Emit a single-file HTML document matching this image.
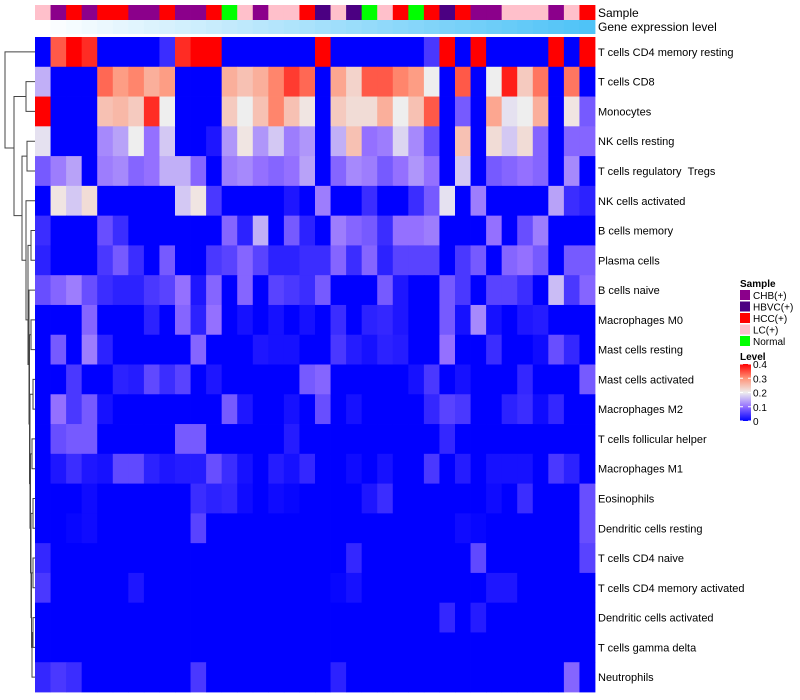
<!DOCTYPE html>
<html><head><meta charset="utf-8"><style>
html,body{margin:0;padding:0;background:#fff;}
svg{display:block;font-family:"Liberation Sans",sans-serif;}
</style></head><body>
<svg id="chart" width="800" height="700" viewBox="0 0 800 700" xmlns="http://www.w3.org/2000/svg">
<g id="dendro" fill="none" stroke="#444" stroke-width="1"></g>
<g id="ann"></g>
<g id="cells"></g>
<g id="rowlabels" font-size="11" fill="#000"></g>
<text x="598" y="17" font-size="12">Sample</text>
<text x="598" y="31" font-size="12">Gene expression level</text>
<g id="legend" font-size="10"></g>
<defs><linearGradient id="lvl" x1="0" y1="1" x2="0" y2="0">
<stop offset="0" stop-color="#0000ff"/><stop offset="0.25" stop-color="#9470ff"/><stop offset="0.5" stop-color="#eeeeee"/><stop offset="0.75" stop-color="#ff9478"/><stop offset="1" stop-color="#ff0000"/></linearGradient></defs>
</svg>
<script>
const rowNames=["T cells CD4 memory resting","T cells CD8","Monocytes","NK cells resting","T cells regulatory \u00a0Tregs","NK cells activated","B cells memory","Plasma cells","B cells naive","Macrophages M0","Mast cells resting","Mast cells activated","Macrophages M2","T cells follicular helper","Macrophages M1","Eosinophils","Dendritic cells resting","T cells CD4 naive","T cells CD4 memory activated","Dendritic cells activated","T cells gamma delta","Neutrophils"];
const samples=["LC","CHB","HCC","CHB","HCC","HCC","CHB","CHB","HCC","CHB","CHB","HCC","Normal","LC","CHB","LC","LC","HCC","HBVC","LC","HBVC","Normal","LC","HCC","Normal","HCC","HBVC","HCC","CHB","CHB","LC","LC","LC","CHB","LC","HCC"];
const sampleTypes=["CHB(+)","HBVC(+)","HCC(+)","LC(+)","Normal"];
const levelTicks=[0,0.1,0.2,0.3,0.4];
const m0=[0,.34,.4,.37,0,0,0,0,.04,.37,.4,.4,0,0,0,0,0,0,.4,0,0,0,0,0,0,.05,.4,0,.4,0,0,0,0,.4,0,.4];
const m1=[.15,0,0,0,.33,.29,.31,.27,.29,0,0,0,.27,.25,.27,.31,.36,.33,0,.28,.23,.34,.34,.31,.29,.2,0,.34,0,.2,.38,.24,.32,0,.32,0];
const m2=[.4,0,0,0,.25,.26,.24,.37,.2,0,0,0,.24,.2,.25,.31,.25,.21,0,.24,.22,.22,.27,.2,.25,.34,0,.08,0,.28,.19,.2,.27,0,.21,.08];
const m3=[.19,0,0,0,.12,.14,.2,.1,.17,0,0,.02,.13,.21,.13,.17,.11,.13,0,.15,.25,.1,.11,.18,.12,.07,0,.25,0,.22,.17,.22,.09,0,.09,.09];
const m4=[.08,.11,.14,0,.11,.12,.09,.1,.15,.15,.09,0,.11,.12,.1,.09,.1,.14,0,.09,.12,.11,.08,.1,.13,.1,0,.17,0,.08,.09,.1,.09,0,.12,0];
const m5=[0,.21,.17,.22,0,0,0,0,0,.17,.21,.05,0,0,0,0,.02,0,.11,0,0,.04,0,0,.04,.08,.19,0,.11,0,0,0,0,.14,.04,.03];
const m6=[.04,0,0,0,.07,.04,0,0,0,0,0,0,.09,.03,.15,0,.08,.03,0,.11,.09,.08,.04,.1,.1,.11,0,0,0,.1,0,.07,.11,0,0,0];
const m7=[.03,0,0,0,.05,.08,.04,0,.08,0,0,.05,.06,.09,.06,.03,.03,.04,.04,.09,.04,.09,.03,.06,.06,.06,0,.05,.08,0,.09,.1,.08,0,.08,.08];
const m8=[.07,.09,.11,.07,.04,.03,.03,.05,.06,.1,.02,.09,0,.09,0,.06,.05,.04,.08,0,0,0,.08,.02,0,0,.08,.05,0,.06,.06,.04,0,.16,.05,.09];
const m9=[0,0,0,.09,0,0,0,.03,0,.09,.03,.1,0,.015,0,.015,0,.015,0,.04,0,.03,.035,.02,0,0,.08,.015,.12,.015,0,.02,.025,0,0,0];
const m10=[0,.08,0,.11,.03,0,0,0,0,0,.09,0,0,0,.02,.015,.015,0,0,.05,.025,.015,.03,.025,0,0,.1,0,0,.04,0,0,.01,.07,.035,0];
const m11=[0,0,.05,0,0,.03,.025,.065,.04,.06,0,.02,0,0,0,0,0,.08,.09,0,0,0,0,0,.015,.05,0,.015,0,0,0,.035,0,0,0,.08];
const m12=[0,.1,.05,.08,.015,0,0,0,0,0,0,0,.08,.02,0,0,.015,0,.07,0,.015,0,0,0,0,.035,.06,.05,0,0,.03,.04,.01,.035,0,0];
const m13=[0,.07,.08,.08,0,0,0,0,0,.08,.08,0,0,0,0,0,.025,0,0,0,0,0,0,0,0,0,.035,0,0,0,0,0,0,0,0,0];
const m14=[0,.02,.04,.02,.015,.065,.065,.03,.02,.025,.025,.07,.04,.015,0,.025,.015,.035,0,0,.01,0,.015,0,0,.05,0,.025,0,.015,.015,.015,0,.05,.03,0];
const m15=[0,0,0,.01,0,0,0,0,0,0,.04,.03,.035,.01,0,.01,.005,0,0,0,0,.02,.04,0,0,0,0,0,0,.01,0,.04,0,0,0,.07];
const m16=[0,0,.005,.01,0,0,0,0,0,0,.06,0,0,0,0,0,0,0,0,0,0,0,0,0,0,0,0,.01,.005,0,0,0,0,0,0,.07];
const m17=[.035,0,0,0,0,0,0,0,0,0,0,0,0,0,0,0,0,0,0,0,.035,0,0,0,0,0,0,0,.065,0,0,0,0,0,0,.06];
const m18=[.05,0,0,0,0,0,.02,0,0,0,0,0,0,0,0,0,0,0,0,.005,.015,0,0,0,0,0,0,0,0,.02,.02,0,0,0,0,0];
const m19=[0,0,0,0,0,0,0,0,0,0,0,0,0,0,0,0,0,0,0,0,0,0,0,0,0,0,.035,0,.025,0,0,0,0,0,0,0];
const m20=[0,0,0,0,0,0,0,0,0,0,0,0,0,0,0,0,0,0,0,0,0,0,0,0,0,0,0,0,0,0,0,0,0,0,0,0];
const m21=[.035,.05,.04,0,0,0,0,0,0,0,.05,0,0,0,0,0,0,0,0,.03,0,0,0,0,0,0,0,0,0,0,0,0,0,0,.09,0];
const matrix=[m0,m1,m2,m3,m4,m5,m6,m7,m8,m9,m10,m11,m12,m13,m14,m15,m16,m17,m18,m19,m20,m21];

const NS="http://www.w3.org/2000/svg";
const X0=35,X1=595,Y0=37,Y1=692;
const nC=samples.length,nR=rowNames.length;
const cw=(X1-X0)/nC,rh=(Y1-Y0)/nR;
const xPos=i=>X0+i*cw, yPos=r=>Y0+r*rh;
const sampleColor={"CHB":"#8b008b","HBVC":"#4b0082","HCC":"#ff0000","LC":"#ffc0cb","Normal":"#00ff00"};
const stops=[[0,[0,0,255]],[0.1,[148,112,255]],[0.2,[238,238,238]],[0.3,[255,148,120]],[0.4,[255,0,0]]];
function col(v){v=Math.max(0,Math.min(0.4,v));for(let i=0;i<4;i++){const a=stops[i],b=stops[i+1];if(v<=b[0]){const t=(v-a[0])/(b[0]-a[0]);return "rgb("+a[1].map((c,k)=>Math.round(c+(b[1][k]-c)*t)).join(",")+")";}}return "red";}
function mk(tag,attrs,parent){const e=document.createElementNS(NS,tag);for(const k in attrs)e.setAttribute(k,attrs[k]);parent.appendChild(e);return e;}
const cells=document.getElementById('cells');
matrix.forEach((row,r)=>row.forEach((v,c)=>{
  const e=mk('rect',{x:xPos(c),y:yPos(r),width:cw+0.4,height:rh+0.4,fill:col(v)},cells);
  
  
}));
const rl=document.getElementById('rowlabels');
rowNames.forEach((n,r)=>{
  const t=mk('text',{x:598,y:yPos(r)+rh/2+4},rl);t.textContent=n;
  
  
});
const ann=document.getElementById('ann');
samples.forEach((s,c)=>{
  const e=mk('rect',{x:xPos(c),y:5,width:cw+0.4,height:15,fill:sampleColor[s]},ann);
  
  
  const t=c/(nC-1);
  const g=mk('rect',{x:xPos(c),y:20,width:cw+0.4,height:14,fill:"rgb("+Math.round(255-(255-79)*t)+","+Math.round(255-(255-195)*t)+","+Math.round(255-(255-247)*t)+")"},ann);
  
  
});
const lg=document.getElementById('legend');
let t=mk('text',{x:740,y:287,'font-weight':'bold'},lg);t.textContent="Sample";


const keys=["CHB","HBVC","HCC","LC","Normal"];
sampleTypes.forEach((s,i)=>{
  const y=290+i*11.5;
  const b=mk('rect',{x:740,y:y,width:10,height:10,fill:sampleColor[keys[i]]},lg);
  
  
  const tx=mk('text',{x:753,y:y+9},lg);tx.textContent=s;
  
  
});
t=mk('text',{x:740,y:360,'font-weight':'bold'},lg);t.textContent="Level";


const cb=mk('rect',{x:740,y:364,width:11,height:57,fill:'url(#lvl)'},lg);


levelTicks.forEach(v=>{
  const y=421-v/0.4*57;
  mk('line',{x1:740,x2:743,y1:y,y2:y,stroke:'#fff'},lg);
  mk('line',{x1:748,x2:751,y1:y,y2:y,stroke:'#fff'},lg);
  const tx=mk('text',{x:753,y:y+4},lg);tx.textContent=String(v);
  
  
});
const dg=document.getElementById('dendro');
const cy=r=>yPos(r)+rh/2;
function U(x,ya,yb,xa,xb){mk('path',{d:`M${xa},${ya}H${x}V${yb}H${xb}`},dg);}
U(26,cy(1),cy(2),35,35);
U(27,cy(3),cy(4),35,35);
U(31,cy(6),cy(7),35,35);
U(31,cy(9),cy(10),35,35);
U(33,cy(11),cy(12),35,35);
U(32,cy(13),cy(14),35,35);
U(33,cy(15),cy(16),35,35);
U(33,cy(17),cy(18),35,35);
U(33,cy(19),cy(20),35,35);
U(32,(cy(19)+cy(20))/2,cy(21),33,35);
U(31.5,(cy(17)+cy(18))/2,(cy(19)+cy(21))/2,33,32);
U(31,(cy(15)+cy(16))/2,(cy(18)+cy(20))/2,33,31.5);
U(30.5,(cy(13)+cy(14))/2,(cy(16)+cy(19))/2,32,31);
U(30,(cy(11)+cy(12))/2,(cy(14)+cy(18))/2,33,30.5);
U(29.5,(cy(9)+cy(10))/2,(cy(12)+cy(17))/2,31,30);
U(29,cy(8),(cy(10)+cy(15))/2,35,29.5);
U(28,(cy(6)+cy(7))/2,(cy(8)+cy(13))/2,31,29);
U(26,cy(5),(cy(7)+cy(11))/2,35,28);
U(22,(cy(3)+cy(4))/2,(cy(5)+cy(9))/2,27,26);
U(14,(cy(1)+cy(2))/2,(cy(4)+cy(7))/2,26,22);
U(5,cy(0),148,35,14);
</script>
</body></html>
